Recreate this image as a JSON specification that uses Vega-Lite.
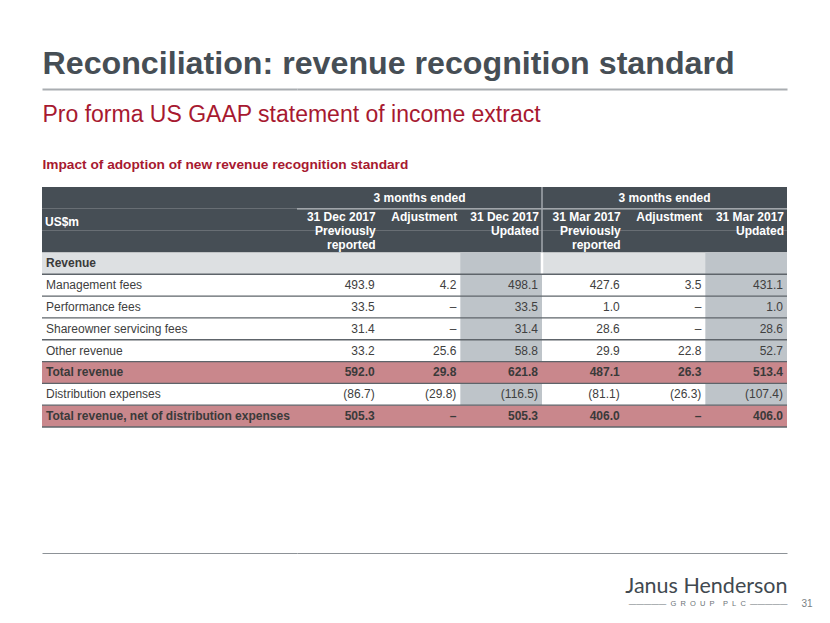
{
  "$schema": "https://vega.github.io/schema/vega-lite/v6.json",
  "width": 745,
  "height": 240,
  "autosize": {"type": "none"},
  "padding": {"left": 42, "top": 187, "right": 43, "bottom": 196},
  "background": "white",
  "config": {
    "view": {"stroke": null},
    "font": "Liberation Sans",
    "axis": {"labels": false, "ticks": false, "grid": false, "domain": false, "titleFont": "Liberation Sans"},
    "text": {"font": "Liberation Sans"}
  },
  "datasets": {
    "rows": [
      {"key": "h1", "kind": "head"},
      {"key": "h2", "kind": "head"},
      {"key": "h2b", "kind": "head"},
      {"key": "Revenue", "kind": "section"},
      {"key": "Management fees", "kind": "item", "d_prev": 493.9, "d_adj": 4.2, "d_upd": 498.1, "m_prev": 427.6, "m_adj": 3.5, "m_upd": 431.1},
      {"key": "Performance fees", "kind": "item", "d_prev": 33.5, "d_adj": 0, "d_upd": 33.5, "m_prev": 1.0, "m_adj": 0, "m_upd": 1.0},
      {"key": "Shareowner servicing fees", "kind": "item", "d_prev": 31.4, "d_adj": 0, "d_upd": 31.4, "m_prev": 28.6, "m_adj": 0, "m_upd": 28.6},
      {"key": "Other revenue", "kind": "item", "d_prev": 33.2, "d_adj": 25.6, "d_upd": 58.8, "m_prev": 29.9, "m_adj": 22.8, "m_upd": 52.7},
      {"key": "Total revenue", "kind": "total", "d_prev": 592.0, "d_adj": 29.8, "d_upd": 621.8, "m_prev": 487.1, "m_adj": 26.3, "m_upd": 513.4},
      {"key": "Distribution expenses", "kind": "item", "d_prev": -86.7, "d_adj": -29.8, "d_upd": -116.5, "m_prev": -81.1, "m_adj": -26.3, "m_upd": -107.4},
      {"key": "Total revenue, net of distribution expenses", "kind": "total", "d_prev": 505.3, "d_adj": 0, "d_upd": 505.3, "m_prev": 406.0, "m_adj": 0, "m_upd": 406.0}
    ],
    "cols": [
      {"col": "d_prev", "h": "31 Dec 2017\nPreviously\nreported"},
      {"col": "d_adj", "h": "Adjustment"},
      {"col": "d_upd", "h": "31 Dec 2017\nUpdated"},
      {"col": "m_prev", "h": "31 Mar 2017\nPreviously\nreported"},
      {"col": "m_adj", "h": "Adjustment"},
      {"col": "m_upd", "h": "31 Mar 2017\nUpdated"}
    ],
    "groups": [
      {"grp": "Dec", "t": "3 months ended"},
      {"grp": "Mar", "t": "3 months ended"}
    ],
    "seps": [
      {"grp": "Mar", "top": "h1", "bottom": "h2b", "part": "head"},
      {"grp": "Mar", "top": "Revenue", "bottom": "Revenue", "part": "section"}
    ],
    "corner": [{"t": "US$m"}]
  },
  "resolve": {"scale": {"x": "independent"}, "axis": {"x": "independent"}},
  "layer": [
    {
      "data": {"name": "rows"},
      "transform": [{"filter": "datum.kind !== 'item'"}],
      "mark": {"type": "rect"},
      "encoding": {
        "y": {"field": "key", "type": "nominal", "axis": null, "scale": {"domain": ["h1","h2","h2b","Revenue","Management fees","Performance fees","Shareowner servicing fees","Other revenue","Total revenue","Distribution expenses","Total revenue, net of distribution expenses"], "paddingInner": 0, "paddingOuter": 0}},
        "fill": {"condition": [{"test": "datum.kind === 'head'", "value": "#464e55"}, {"test": "datum.kind === 'section'", "value": "#dde0e2"}], "value": "#c9878c"}
      }
    },
    {
      "data": {"name": "rows"},
      "transform": [{"filter": "datum.kind === 'item' || datum.kind === 'section'"}, {"fold": ["d_upd", "m_upd"], "as": ["col", "v"]}],
      "mark": {"type": "rect", "fill": "#bec4c9"},
      "encoding": {
        "x": {"field": "col", "type": "nominal", "scale": {"type": "band", "domain": ["d_prev","d_adj","d_upd","m_prev","m_adj","m_upd"], "range": [255, 745], "paddingInner": 0, "paddingOuter": 0},
              "axis": {"orient": "top", "offset": 98, "domain": true, "domainColor": "#a9adb1", "domainWidth": 2, "title": null}},
        "y": {"field": "key", "type": "nominal", "axis": null, "scale": {"domain": ["h1","h2","h2b","Revenue","Management fees","Performance fees","Shareowner servicing fees","Other revenue","Total revenue","Distribution expenses","Total revenue, net of distribution expenses"], "paddingInner": 0, "paddingOuter": 0}}
      }
    },
    {
      "data": {"name": "groups"},
      "mark": {"type": "rule", "color": "#b4b9bd", "strokeWidth": 1.2},
      "encoding": {
        "x": {"field": "grp", "type": "nominal", "bandPosition": 0, "axis": null, "scale": {"type": "band", "domain": ["Dec", "Mar"], "range": [255, 745], "paddingInner": 0, "paddingOuter": 0}},
        "x2": {"field": "grp", "bandPosition": 1},
        "y": {"datum": "h1", "type": "nominal", "bandPosition": 1, "axis": null, "scale": {"domain": ["h1","h2","h2b","Revenue","Management fees","Performance fees","Shareowner servicing fees","Other revenue","Total revenue","Distribution expenses","Total revenue, net of distribution expenses"], "paddingInner": 0, "paddingOuter": 0}}
      }
    },
    {
      "data": {"name": "seps"},
      "mark": {"type": "rule"},
      "encoding": {
        "x": {"field": "grp", "type": "nominal", "bandPosition": 0, "axis": null, "scale": {"type": "band", "domain": ["Dec", "Mar"], "range": [255, 745], "paddingInner": 0, "paddingOuter": 0}},
        "y": {"field": "top", "type": "nominal", "bandPosition": 0, "axis": null, "scale": {"domain": ["h1","h2","h2b","Revenue","Management fees","Performance fees","Shareowner servicing fees","Other revenue","Total revenue","Distribution expenses","Total revenue, net of distribution expenses"], "paddingInner": 0, "paddingOuter": 0}},
        "y2": {"field": "bottom", "bandPosition": 1},
        "color": {"condition": {"test": "datum.part === 'head'", "value": "#a3a9ae"}, "value": "#ffffff"},
        "strokeWidth": {"condition": {"test": "datum.part === 'head'", "value": 1.5}, "value": 2.5}
      }
    },
    {
      "data": {"name": "rows"},
      "transform": [{"filter": "datum.kind !== 'head'"}],
      "mark": {"type": "rule", "color": "#5e646a", "strokeWidth": 1.3},
      "encoding": {
        "y": {"field": "key", "type": "nominal", "bandPosition": 1, "axis": null, "scale": {"domain": ["h1","h2","h2b","Revenue","Management fees","Performance fees","Shareowner servicing fees","Other revenue","Total revenue","Distribution expenses","Total revenue, net of distribution expenses"], "paddingInner": 0, "paddingOuter": 0}}
      }
    },
    {
      "data": {"name": "rows"},
      "transform": [{"filter": "datum.kind === 'item'"}],
      "mark": {"type": "text", "align": "left", "baseline": "middle", "dx": 4, "fontSize": 12, "color": "#404040"},
      "encoding": {
        "x": {"datum": "line", "type": "nominal", "bandPosition": 0, "scale": {"type": "band", "domain": ["line"], "range": [0, 255], "paddingInner": 0, "paddingOuter": 0},
              "axis": {"orient": "top", "offset": 0, "title": "Impact of adoption of new revenue recognition standard", "titleFontSize": 13.7, "titleFontWeight": "bold", "titleColor": "#a71930", "titleAnchor": "start", "titleAlign": "left", "titleBaseline": "alphabetic", "titlePadding": 19, "titleLimit": 2000}},
        "y": {"field": "key", "type": "nominal", "axis": null, "scale": {"domain": ["h1","h2","h2b","Revenue","Management fees","Performance fees","Shareowner servicing fees","Other revenue","Total revenue","Distribution expenses","Total revenue, net of distribution expenses"], "paddingInner": 0, "paddingOuter": 0}},
        "text": {"field": "key"}
      }
    },
    {
      "data": {"name": "rows"},
      "transform": [{"filter": "datum.kind === 'section'"}],
      "mark": {"type": "text", "align": "left", "baseline": "middle", "dx": 4, "fontSize": 12, "fontWeight": "bold", "color": "#3a3a3a"},
      "encoding": {
        "x": {"datum": "line", "type": "nominal", "bandPosition": 0, "scale": {"type": "band", "domain": ["line"], "range": [0, 255], "paddingInner": 0, "paddingOuter": 0},
              "axis": {"orient": "top", "offset": 66, "title": "Pro forma US GAAP statement of income extract", "titleFontSize": 23, "titleFontWeight": "normal", "titleColor": "#a71930", "titleAnchor": "start", "titleAlign": "left", "titleBaseline": "alphabetic", "titlePadding": 0, "titleLimit": 2000}},
        "y": {"field": "key", "type": "nominal", "axis": null, "scale": {"domain": ["h1","h2","h2b","Revenue","Management fees","Performance fees","Shareowner servicing fees","Other revenue","Total revenue","Distribution expenses","Total revenue, net of distribution expenses"], "paddingInner": 0, "paddingOuter": 0}},
        "text": {"field": "key"}
      }
    },
    {
      "data": {"name": "rows"},
      "transform": [{"filter": "datum.kind === 'total'"}],
      "mark": {"type": "text", "align": "left", "baseline": "middle", "dx": 4, "fontSize": 12, "fontWeight": "bold", "color": "#3a3a3a"},
      "encoding": {
        "x": {"datum": "line", "type": "nominal", "bandPosition": 0, "scale": {"type": "band", "domain": ["line"], "range": [0, 255], "paddingInner": 0, "paddingOuter": 0},
              "axis": {"orient": "top", "offset": 98, "domain": true, "domainColor": "#a9adb1", "domainWidth": 2, "title": "Reconciliation: revenue recognition standard", "titleFontSize": 32.2, "titleFontWeight": "bold", "titleColor": "#464e55", "titleAnchor": "start", "titleAlign": "left", "titleBaseline": "alphabetic", "titlePadding": 16, "titleLimit": 2000}},
        "y": {"field": "key", "type": "nominal", "axis": null, "scale": {"domain": ["h1","h2","h2b","Revenue","Management fees","Performance fees","Shareowner servicing fees","Other revenue","Total revenue","Distribution expenses","Total revenue, net of distribution expenses"], "paddingInner": 0, "paddingOuter": 0}},
        "text": {"field": "key"}
      }
    },
    {
      "data": {"name": "corner"},
      "mark": {"type": "text", "align": "left", "baseline": "middle", "dx": 3, "fontSize": 12, "fontWeight": "bold", "color": "#ffffff"},
      "encoding": {
        "x": {"datum": "line", "type": "nominal", "bandPosition": 0, "scale": {"type": "band", "domain": ["line"], "range": [0, 255], "paddingInner": 0, "paddingOuter": 0},
              "axis": {"orient": "bottom", "offset": 126, "domain": true, "domainColor": "#8d9297", "domainWidth": 1, "title": null}},
        "y": {"datum": "h2", "type": "nominal", "bandPosition": 0.6, "axis": null, "scale": {"domain": ["h1","h2","h2b","Revenue","Management fees","Performance fees","Shareowner servicing fees","Other revenue","Total revenue","Distribution expenses","Total revenue, net of distribution expenses"], "paddingInner": 0, "paddingOuter": 0}},
        "text": {"field": "t"}
      }
    },
    {
      "data": {"name": "rows"},
      "transform": [{"filter": "datum.kind === 'item'"}, {"fold": ["d_prev","d_adj","d_upd","m_prev","m_adj","m_upd"], "as": ["col", "v"]}],
      "mark": {"type": "text", "align": "right", "baseline": "middle", "dx": -4, "fontSize": 12, "color": "#404040"},
      "encoding": {
        "x": {"field": "col", "type": "nominal", "bandPosition": 1, "scale": {"type": "band", "domain": ["d_prev","d_adj","d_upd","m_prev","m_adj","m_upd"], "range": [255, 745], "paddingInner": 0, "paddingOuter": 0},
              "axis": {"orient": "bottom", "offset": 126, "domain": true, "domainColor": "#8d9297", "domainWidth": 1, "title": "Janus Henderson", "titleFont": "Lato", "titleFontSize": 21.5, "titleFontWeight": "normal", "titleColor": "#414950", "titleAnchor": "end", "titleAlign": "right", "titleBaseline": "alphabetic", "titlePadding": 39, "titleLimit": 2000}},
        "y": {"field": "key", "type": "nominal", "axis": null, "scale": {"domain": ["h1","h2","h2b","Revenue","Management fees","Performance fees","Shareowner servicing fees","Other revenue","Total revenue","Distribution expenses","Total revenue, net of distribution expenses"], "paddingInner": 0, "paddingOuter": 0}},
        "text": {"condition": {"test": "datum.v === 0", "value": "–"}, "field": "v", "type": "quantitative", "format": "(.1f"}
      }
    },
    {
      "data": {"name": "rows"},
      "transform": [{"filter": "datum.kind === 'total'"}, {"fold": ["d_prev","d_adj","d_upd","m_prev","m_adj","m_upd"], "as": ["col", "v"]}],
      "mark": {"type": "text", "align": "right", "baseline": "middle", "dx": -4, "fontSize": 12, "fontWeight": "bold", "color": "#3a3a3a"},
      "encoding": {
        "x": {"field": "col", "type": "nominal", "bandPosition": 1, "scale": {"type": "band", "domain": ["d_prev","d_adj","d_upd","m_prev","m_adj","m_upd"], "range": [255, 745], "paddingInner": 0, "paddingOuter": 0},
              "axis": {"orient": "bottom", "offset": 126, "title": "—————\u00a0\u00a0G\u00a0\u00a0R\u00a0\u00a0O\u00a0\u00a0U\u00a0\u00a0P\u00a0\u00a0\u00a0\u00a0P\u00a0\u00a0L\u00a0\u00a0C\u00a0\u00a0—————", "titleFontSize": 7.5, "titleFontWeight": "normal", "titleColor": "#6d7378", "titleAnchor": "end", "titleAlign": "right", "titleBaseline": "alphabetic", "titlePadding": 52, "titleLimit": 2000}},
        "y": {"field": "key", "type": "nominal", "axis": null, "scale": {"domain": ["h1","h2","h2b","Revenue","Management fees","Performance fees","Shareowner servicing fees","Other revenue","Total revenue","Distribution expenses","Total revenue, net of distribution expenses"], "paddingInner": 0, "paddingOuter": 0}},
        "text": {"condition": {"test": "datum.v === 0", "value": "–"}, "field": "v", "type": "quantitative", "format": "(.1f"}
      }
    },
    {
      "data": {"name": "cols"},
      "mark": {"type": "text", "align": "right", "baseline": "top", "dx": -3, "dy": 3, "fontSize": 12, "fontWeight": "bold", "color": "#ffffff", "lineHeight": 14, "lineBreak": "\n"},
      "encoding": {
        "x": {"field": "col", "type": "nominal", "bandPosition": 1, "scale": {"type": "band", "domain": ["d_prev","d_adj","d_upd","m_prev","m_adj","m_upd"], "range": [255, 745], "paddingInner": 0, "paddingOuter": 0},
              "axis": {"orient": "bottom", "offset": 126, "title": "\u200b\u00a0\u00a0\u00a0\u00a0\u00a031", "titleFontSize": 10, "titleFontWeight": "normal", "titleColor": "#7a7f84", "titleAnchor": "end", "titleAlign": "left", "titleBaseline": "alphabetic", "titlePadding": 53, "titleLimit": 2000}},
        "y": {"datum": "h2", "type": "nominal", "bandPosition": 0, "axis": null, "scale": {"domain": ["h1","h2","h2b","Revenue","Management fees","Performance fees","Shareowner servicing fees","Other revenue","Total revenue","Distribution expenses","Total revenue, net of distribution expenses"], "paddingInner": 0, "paddingOuter": 0}},
        "text": {"field": "h"}
      }
    },
    {
      "data": {"name": "groups"},
      "mark": {"type": "text", "align": "center", "baseline": "middle", "fontSize": 12, "fontWeight": "bold", "color": "#ffffff"},
      "encoding": {
        "x": {"field": "grp", "type": "nominal", "axis": null, "scale": {"type": "band", "domain": ["Dec", "Mar"], "range": [255, 745], "paddingInner": 0, "paddingOuter": 0}},
        "y": {"datum": "h1", "type": "nominal", "axis": null, "scale": {"domain": ["h1","h2","h2b","Revenue","Management fees","Performance fees","Shareowner servicing fees","Other revenue","Total revenue","Distribution expenses","Total revenue, net of distribution expenses"], "paddingInner": 0, "paddingOuter": 0}},
        "text": {"field": "t"}
      }
    }
  ]
}
